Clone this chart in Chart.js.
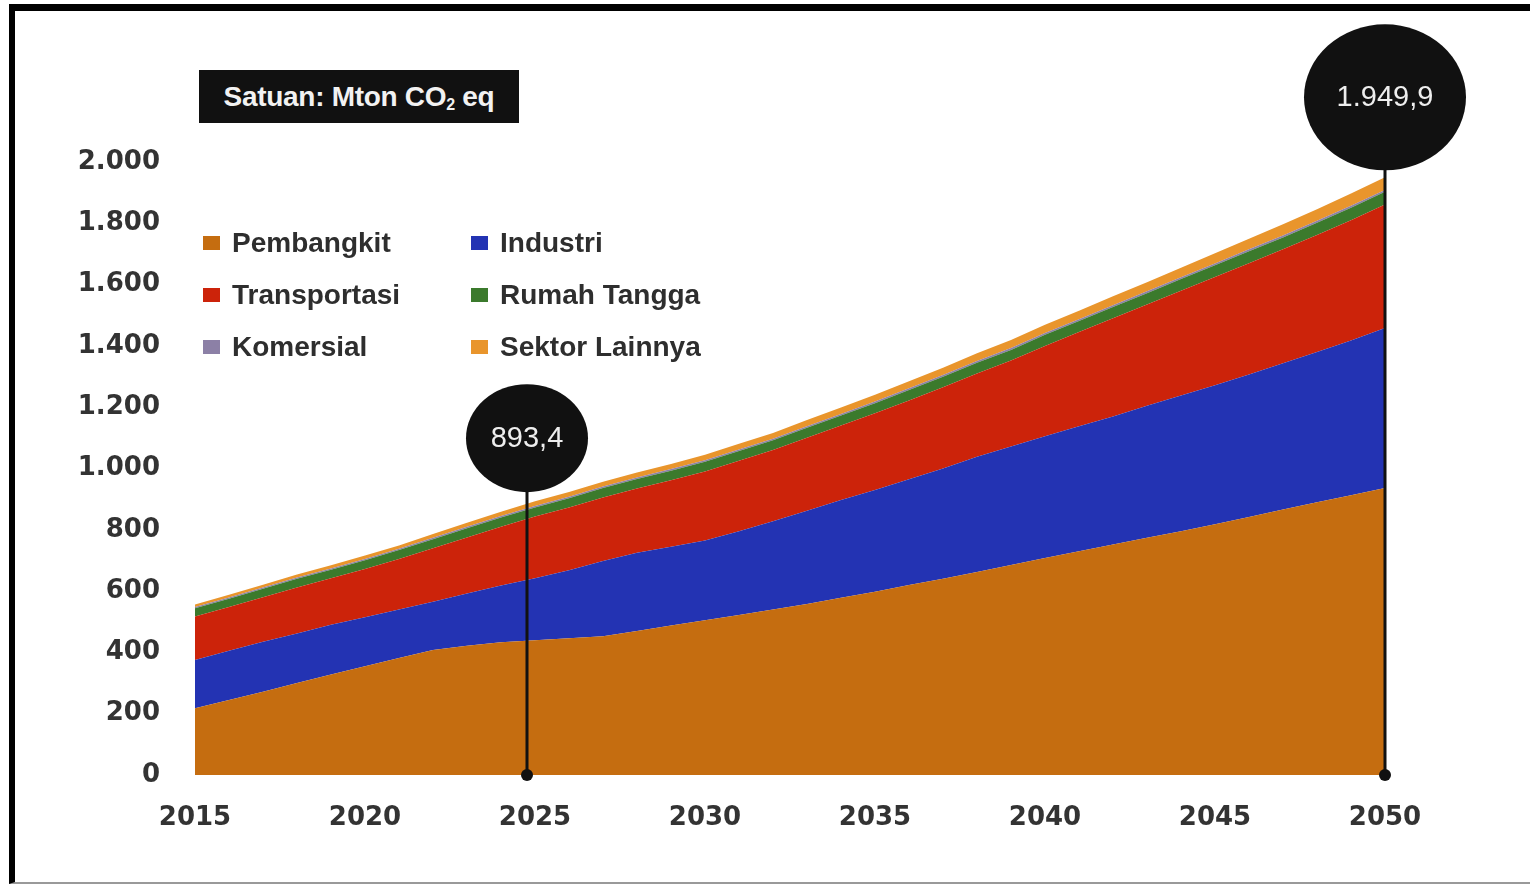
<!DOCTYPE html>
<html>
<head>
<meta charset="utf-8">
<script src="https://cdn.jsdelivr.net/npm/chart.js@4.4.1/dist/chart.umd.min.js"></script>
<style>
  body { margin: 0; width: 1530px; height: 884px; background: #fff; overflow: hidden; position: relative; font-family: 'Liberation Sans', Arial, sans-serif; }
  #frame { position: absolute; left: 9px; top: 4px; width: 1530px; height: 880px; border-left: 6px solid #000; border-top: 7px solid #000; border-bottom: 2px solid #999; box-sizing: border-box; }
  #chart { position: absolute; left: 0; top: 0; }
  #satuan { position: absolute; left: 199px; top: 70px; width: 320px; height: 53px; background: #111; color: #f2f2f2;
    font-weight: bold; font-size: 28px; line-height: 53px; text-align: center; letter-spacing: -0.3px; }
  #satuan sub { font-size: 16px; vertical-align: -4px; line-height: 0; }
  #legend { position: absolute; left: 203px; top: 226px; width: 520px; display: grid; grid-template-columns: 268px 250px; row-gap: 18px; }
  .item { display: flex; align-items: center; height: 34px; font-weight: bold; font-size: 28px; color: #2e2e2e; }
  .sw { width: 17px; height: 14px; margin-right: 12px; }
</style>
</head>
<body>
<div id="frame"></div>
<canvas id="chart" width="1530" height="884"></canvas>
<div id="satuan">Satuan: Mton CO<sub>2</sub> eq</div>
<div id="legend"></div>
<script>
// tahun
const years = [2015, 2016, 2017, 2018, 2019, 2020, 2021, 2022, 2023, 2024,
               2025, 2026, 2027, 2028, 2029, 2030, 2031, 2032, 2033, 2034,
               2035, 2036, 2037, 2038, 2039, 2040, 2041, 2042, 2043, 2044,
               2045, 2046, 2047, 2048, 2049, 2050];

// emisi per sektor (Mton CO2 eq)
const pembangkit = [218, 245, 272, 300, 328, 355, 382, 408, 422, 433,
                    440, 446, 453, 470, 488, 505, 522, 540, 558, 578,
                    598, 620, 640, 662, 685, 708, 730, 752, 774, 795,
                    818, 842, 866, 890, 913, 936];
const industri = [157, 160, 163, 162, 162, 160, 158, 157, 170, 185,
                  202, 222, 245, 255, 257, 260, 273, 288, 304, 319,
                  332, 345, 360, 376, 387, 397, 408, 418, 431, 443,
                  454, 465, 477, 490, 505, 522];
const transportasi = [142, 143, 145, 150, 152, 157, 165, 175, 183, 192,
                      201, 205, 207, 210, 217, 225, 230, 232, 238, 243,
                      250, 257, 265, 272, 280, 295, 307, 320, 330, 342,
                      353, 363, 372, 382, 392, 403];
const rumahTangga = [27, 27, 28, 28, 28, 29, 29, 29, 30, 30,
                     30, 30, 31, 31, 31, 32, 32, 32, 33, 33,
                     33, 34, 34, 35, 35, 36, 36, 37, 37, 38,
                     38, 39, 39, 40, 41, 42];
const komersial = [4, 4, 4, 4, 4, 4, 4, 5, 5, 5,
                   5, 5, 5, 5, 5, 5, 5, 5, 5, 5,
                   6, 6, 6, 6, 6, 6, 6, 6, 6, 6,
                   6, 6, 6, 6, 6, 6];
const sektorLainnya = [8, 9, 9, 10, 10, 11, 11, 12, 13, 14,
                       15, 15, 16, 16, 17, 18, 19, 19, 20, 21,
                       22, 23, 24, 25, 26, 27, 28, 29, 30, 31,
                       33, 35, 37, 38, 40, 41];

const seriesNames = ['Pembangkit', 'Industri', 'Transportasi', 'Rumah Tangga', 'Komersial', 'Sektor Lainnya'];
const seriesData = [pembangkit, industri, transportasi, rumahTangga, komersial, sektorLainnya];
const seriesColors = ['#c56d10', '#2333b3', '#cc230a', '#3b7a2c', '#8c80a6', '#e9952c'];

// total yang ditandai
const calloutYears = [2025, 2050];
const calloutValues = [893.4, 1949.9];

function fmtId(v, dec) {
    let parts = v.toFixed(dec).split('.');
    parts[0] = parts[0].replace(/\B(?=(\d{3})+(?!\d))/g, '.');
    return parts.join(',');
}

// legend (html)
const legendDiv = document.getElementById('legend');
for (let i = 0; i < seriesNames.length; i++) {
    legendDiv.innerHTML +=
    `
        <div class="item"><span class="sw" style="background:${seriesColors[i]}"></span>${seriesNames[i]}</div>
    `;
}

const calloutPlugin = {
    id: 'callouts',
    afterDatasetsDraw(chart) {
        const ctx = chart.ctx;
        const xs = chart.scales.x;
        const ys = chart.scales.y;
        // rx, ry, jarak ke area, geser x
        const sizes = [[61, 54, 9, -8], [81, 73, 7, 0]];
        calloutYears.forEach((yr, i) => {
            const [rx, ry, gap, dx] = sizes[i];
            const px = xs.getPixelForValue(years.indexOf(yr)) + dx;
            const top = ys.getPixelForValue(calloutValues[i]);
            const cy = top - gap - ry;
            ctx.save();
            ctx.strokeStyle = '#111';
            ctx.lineWidth = 3;
            ctx.beginPath();
            ctx.moveTo(px, cy + ry - 2);
            ctx.lineTo(px, chart.chartArea.bottom);
            ctx.stroke();
            ctx.fillStyle = '#111';
            ctx.beginPath();
            ctx.arc(px, chart.chartArea.bottom, 6, 0, Math.PI * 2);
            ctx.fill();
            ctx.beginPath();
            ctx.ellipse(px, cy, rx, ry, 0, 0, Math.PI * 2);
            ctx.fill();
            ctx.fillStyle = '#eeeeee';
            ctx.font = '29px "Liberation Sans", Arial, sans-serif';
            ctx.textAlign = 'center';
            ctx.textBaseline = 'middle';
            ctx.fillText(fmtId(calloutValues[i], 1), px, cy + 1);
            ctx.restore();
        });
    }
};

const datasets = seriesNames.map((name, i) => ({
    label: name,
    data: seriesData[i],
    backgroundColor: seriesColors[i],
    borderWidth: 0,
    pointRadius: 0,
    fill: i === 0 ? 'origin' : '-1',
    tension: 0
}));

const tickFont = { family: 'DejaVu Sans', weight: 'bold', size: 26 };

new Chart(document.getElementById('chart'), {
    type: 'line',
    data: { labels: years, datasets: datasets },
    options: {
        responsive: false,
        animation: false,
        layout: { padding: { left: 0, right: 145, top: 162, bottom: 0 } },
        plugins: { legend: { display: false }, tooltip: { enabled: false } },
        scales: {
            x: {
                grid: { display: false, drawTicks: false },
                border: { display: false },
                ticks: {
                    autoSkip: false, maxRotation: 0, padding: 28,
                    color: '#333', font: tickFont,
                    callback: function(v, idx) { return years[idx] % 5 === 0 ? String(years[idx]) : ''; }
                },
                afterFit: function(s) { s.height = 109; }
            },
            y: {
                stacked: true,
                min: 0, max: 2000,
                grid: { display: false, drawTicks: false },
                border: { display: false },
                ticks: {
                    stepSize: 200, padding: 35,
                    color: '#333', font: tickFont,
                    callback: function(v) { return fmtId(v, 0); }
                },
                afterFit: function(s) { s.width = 195; }
            }
        }
    },
    plugins: [calloutPlugin]
});
</script>
</body>
</html>
